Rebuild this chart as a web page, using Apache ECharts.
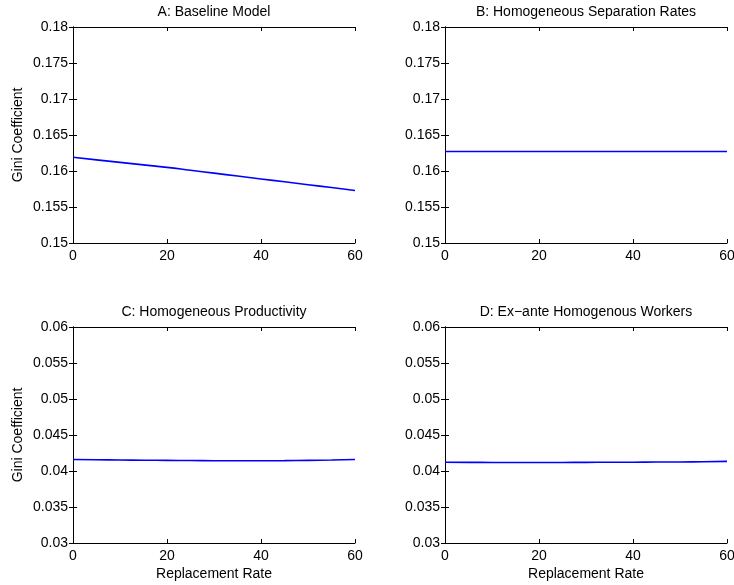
<!DOCTYPE html>
<html>
<head>
<meta charset="utf-8">
<script src="https://cdn.jsdelivr.net/npm/echarts@6/dist/echarts.min.js"></script>
<style>html,body{margin:0;padding:0;background:#fff}#c{width:734px;height:585px}</style>
</head>
<body>
<div id="c"></div>
<script>
const replacementRate = [0, 5, 10, 15, 20, 25, 30, 35, 40, 45, 50, 55, 60];
const giniA = [0.1619, 0.16155, 0.1612, 0.16085, 0.1605, 0.1601, 0.1597, 0.1593, 0.1589, 0.1585, 0.1581, 0.1577, 0.1573];
const giniB = [0.1627, 0.1627, 0.1627, 0.1627, 0.1627, 0.1627, 0.1627, 0.1627, 0.1627, 0.1627, 0.1627, 0.1627, 0.1627];
const giniC = [0.04160, 0.04157, 0.04153, 0.04150, 0.04147, 0.04145, 0.04143, 0.04142, 0.04142, 0.04144, 0.04148, 0.04153, 0.04160];
const giniD = [0.04121, 0.04120, 0.04119, 0.04119, 0.04119, 0.04119, 0.04120, 0.04121, 0.04122, 0.04124, 0.04126, 0.04129, 0.04133];
const panelTitles = ['A: Baseline Model', 'B: Homogeneous Separation Rates', 'C: Homogeneous Productivity', 'D: Ex\u2212ante Homogenous Workers'];
const yRanges = [[0.15, 0.18], [0.15, 0.18], [0.03, 0.06], [0.03, 0.06]];
const xTicks = {min: 0, max: 60, interval: 20};
const yInterval = 0.005;
const xLabel = 'Replacement Rate';
const yLabel = 'Gini Coefficient';
const seriesData = [giniA, giniB, giniC, giniD];

const font = 'Liberation Sans, Arial, Helvetica, sans-serif';
const fs = 14;
const grids = [
  {left: 73, top: 27, width: 282, height: 216},
  {left: 445, top: 27, width: 282, height: 216},
  {left: 73, top: 327, width: 282, height: 216},
  {left: 445, top: 327, width: 282, height: 216}
].map(g => Object.assign(g, {outerBoundsMode: 'none', containLabel: false}));
const xAxes = [], yAxes = [], series = [], graphics = [];
grids.forEach((g, i) => {
  const bottomRow = i >= 2, leftCol = i % 2 === 0;
  xAxes.push({
    type: 'value', gridIndex: i, min: xTicks.min, max: xTicks.max, interval: xTicks.interval,
    position: 'bottom',
    axisLine: {lineStyle: {color: '#000', width: 1}},
    axisTick: {inside: true, length: 4, lineStyle: {color: '#000'}},
    axisLabel: {color: '#000', fontSize: fs, fontFamily: font, margin: 6},
    splitLine: {show: false},
    name: bottomRow ? xLabel : '', nameLocation: 'middle', nameGap: 24,
    nameTextStyle: {color: '#000', fontSize: fs, fontFamily: font}
  });
  xAxes.push({
    type: 'value', gridIndex: i, min: xTicks.min, max: xTicks.max, interval: xTicks.interval,
    position: 'top',
    axisLine: {lineStyle: {color: '#000', width: 1}},
    axisTick: {inside: true, length: 4, lineStyle: {color: '#000'}},
    axisLabel: {show: false}, splitLine: {show: false}
  });
  yAxes.push({
    type: 'value', gridIndex: i, min: yRanges[i][0], max: yRanges[i][1], interval: yInterval,
    position: 'left',
    axisLine: {show: true, lineStyle: {color: '#000', width: 1}},
    axisTick: {show: true, inside: true, length: 4, lineStyle: {color: '#000'}},
    axisLabel: {color: '#000', fontSize: fs, fontFamily: font, margin: 5},
    splitLine: {show: false},
    name: leftCol ? yLabel : '', nameLocation: 'middle', nameGap: 48,
    nameTextStyle: {color: '#000', fontSize: fs, fontFamily: font}
  });
  yAxes.push({
    type: 'value', gridIndex: i, min: yRanges[i][0], max: yRanges[i][1], interval: yInterval,
    position: 'right',
    axisLine: {show: true, lineStyle: {color: '#000', width: 1}},
    axisTick: {show: true, inside: true, length: 4, lineStyle: {color: '#000'}},
    axisLabel: {show: false}, splitLine: {show: false}
  });
  series.push({
    type: 'line', xAxisIndex: i * 2, yAxisIndex: i * 2, showSymbol: false, symbol: 'none',
    smooth: true, lineStyle: {color: '#0000ff', width: 1.6},
    data: replacementRate.map((x, k) => [x, seriesData[i][k]]), animation: false
  });
  graphics.push({
    type: 'text', x: g.left + g.width / 2, y: g.top - 22,
    style: {text: panelTitles[i], fill: '#000', font: fs + 'px ' + font, textAlign: 'center'}
  });
});

const chart = echarts.init(document.getElementById('c'));
chart.setOption({
  backgroundColor: '#fff',
  animation: false,
  grid: grids,
  xAxis: xAxes,
  yAxis: yAxes,
  series: series,
  graphic: graphics
});
</script>
</body>
</html>
